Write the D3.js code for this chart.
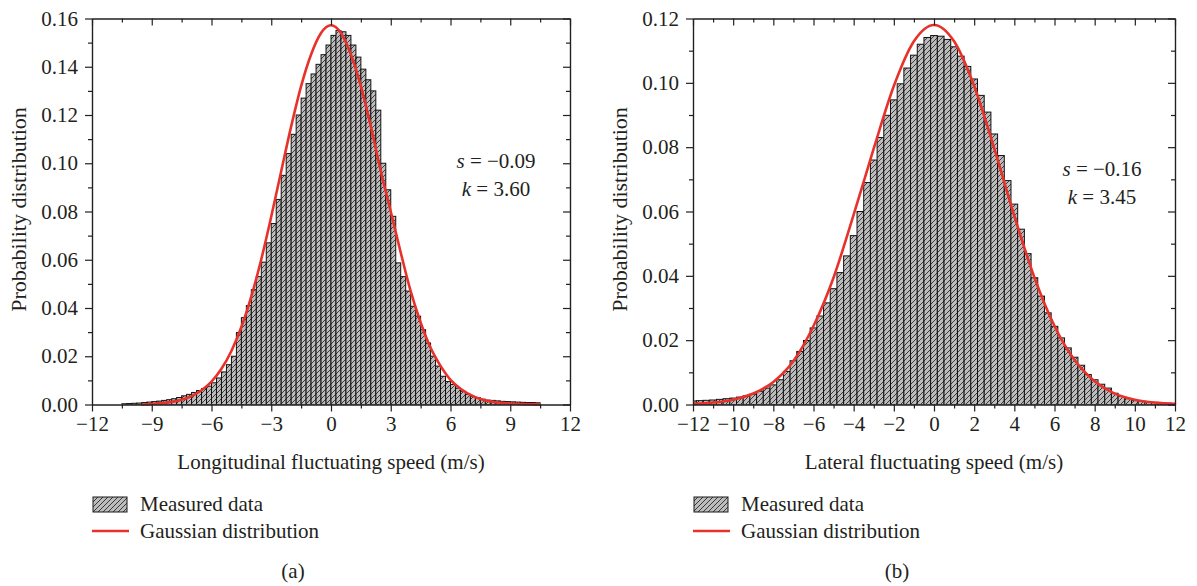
<!DOCTYPE html>
<html>
<head>
<meta charset="utf-8">
<script src="https://cdn.jsdelivr.net/npm/d3@7"></script>
<style>
  body { margin: 0; background: #fff; }
  text { font-family: "Liberation Serif", "Times New Roman", serif; fill: #231f20; }
</style>
</head>
<body>
<svg id="chart" width="1197" height="586"></svg>
<script>
// *********************************************
// DATA
// *********************************************

// (a) longitudinal: bins of 0.25 m/s, first left edge at -10.5
var leftFirstEdge = -10.5, leftBinWidth = 0.25;
var leftHeights = [
  0.0003,0.0004,0.0005,0.0006,0.0008,0.0010,0.0012,0.0014,0.0017,0.0020,0.0024,0.0029,
  0.0036,0.0042,0.0050,0.0058,0.0066,0.0076,0.0090,0.0110,0.0135,0.0165,0.0200,0.0298,
  0.0360,0.0410,0.0476,0.0530,0.0590,0.0670,0.0750,0.0850,0.0950,0.1040,0.1120,0.1200,
  0.1270,0.1330,0.1370,0.1410,0.1450,0.1490,0.1530,0.1550,0.1545,0.1530,0.1490,0.1440,
  0.1390,0.1346,0.1300,0.1220,0.1000,0.0890,0.0780,0.0587,0.0530,0.0470,0.0407,0.0366,
  0.0310,0.0255,0.0200,0.0159,0.0117,0.0095,0.0083,0.0068,0.0055,0.0042,0.0033,0.0028,
  0.0022,0.0018,0.0017,0.0015,0.0013,0.0012,0.0011,0.0010,0.0009,0.0008,0.0008,0.0007
];
var leftCurveX = [-9.5,-9,-8.5,-8,-7.5,-7,-6.5,-6,-5.5,-5,-4.5,-4,-3.5,-3,-2.5,-2,-1.5,-1,-0.5,0,
                  0.5,1,1.5,2,2.5,3,3.5,4,4.5,5,5.5,6,6.5,7,7.5,8,8.5,9,9.5,10,10.5];
var leftCurveY = [0.0000,0.0002,0.0006,0.0011,0.0020,0.0035,0.0059,0.0095,0.0148,0.0222,0.0321,0.0448,
                  0.0602,0.0779,0.0967,0.1153,0.1320,0.1451,0.1540,0.1572,
                  0.1540,0.1451,0.1320,0.1153,0.0967,0.0800,0.0630,0.0470,0.0340,0.0235,0.0160,
                  0.0102,0.0065,0.0040,0.0023,0.0013,0.0007,0.0004,0.0002,0.0001,0.0000];

// (b) lateral: bins of 1/3 m/s centred on multiples of 1/3, from -12 to 12
var rightFirstEdge = -12 - 1/6, rightBinWidth = 1/3;
var rightHeights = [
  0.0011,0.0012,0.0013,0.0014,0.0016,0.0018,0.0020,0.0023,0.0027,0.0032,0.0041,0.0051,
  0.0061,0.0077,0.0103,0.0136,0.0165,0.0199,0.0238,0.0275,0.0316,0.0360,0.0410,0.0462,
  0.0525,0.0600,0.0690,0.0760,0.0830,0.0899,0.0947,0.0997,0.1046,0.1086,0.1120,0.1141,
  0.1147,
  0.1145,0.1135,0.1112,0.1083,0.1051,0.1012,0.0961,0.0909,0.0841,0.0774,0.0696,0.0623,
  0.0545,0.0469,0.0394,0.0337,0.0285,0.0243,0.0207,0.0176,0.0147,0.0122,0.0093,0.0077,
  0.0063,0.0051,0.0035,0.0025,0.0018,0.0012,0.0010,0.0008,0.0006,0.0005,0.0004,0.0003
];
var rightCurveX = [-12,-11,-10,-9,-8,-7,-6,-5,-4,-3,-2,-1,0,1,2,3,4,5,6,7,8,9,10,11,12];
var rightCurveY = [0.0002,0.0006,0.0015,0.0034,0.0070,0.0135,0.0244,0.0395,0.0590,0.0796,0.0990,0.1129,0.1180,
                   0.1129,0.0990,0.0796,0.0586,0.0395,0.0244,0.0138,0.0072,0.0034,0.0015,0.0006,0.0002];

var xTicksLeft = [-12,-9,-6,-3,0,3,6,9,12];
var xTicksRight = [-12,-10,-8,-6,-4,-2,0,2,4,6,8,10,12];
var yTicksLeft = [0,0.02,0.04,0.06,0.08,0.10,0.12,0.14,0.16];
var yTicksRight = [0,0.02,0.04,0.06,0.08,0.10,0.12];

var panelTitles = ["Longitudinal fluctuating speed (m/s)", "Lateral fluctuating speed (m/s)"];
var skewness = ["\u22120.09", "\u22120.16"];
var kurtosis = ["3.60", "3.45"];
var captions = ["(a)", "(b)"];
var legendLabels = ["Measured data", "Gaussian distribution"];

// *********************************************
// SETUP
// *********************************************
var svg = d3.select("#chart");
var red = "#e8312a";

var defs = svg.append("defs");
var pat = defs.append("pattern")
  .attr("id", "hatch")
  .attr("patternUnits", "userSpaceOnUse")
  .attr("width", 5).attr("height", 5);
pat.append("rect").attr("width", 5).attr("height", 5).attr("fill", "#bcbcbc");
pat.append("path")
  .attr("d", "M0,5 L5,0 M-1.25,1.25 L1.25,-1.25 M3.75,6.25 L6.25,3.75")
  .attr("stroke", "#2a2a2a").attr("stroke-width", 0.9);

function drawPanel(p) {
  var x = d3.scaleLinear().domain([-12, 12]).range([p.left, p.right]);
  var y = d3.scaleLinear().domain([0, p.ymax]).range([p.bottom, p.top]);
  var g = svg.append("g");

  defs.append("clipPath").attr("id", "clip" + p.id)
    .append("rect").attr("x", p.left).attr("y", p.top)
    .attr("width", p.right - p.left).attr("height", p.bottom - p.top);

  // histogram bars
  g.append("g").attr("clip-path", "url(#clip" + p.id + ")")
    .selectAll("rect").data(p.heights).enter().append("rect")
      .attr("x", function(d, i) { return x(p.firstEdge + i * p.binWidth); })
      .attr("width", function(d, i) { return x(p.firstEdge + (i + 1) * p.binWidth) - x(p.firstEdge + i * p.binWidth); })
      .attr("y", function(d) { return y(d); })
      .attr("height", function(d) { return y(0) - y(d); })
      .attr("fill", "url(#hatch)")
      .attr("stroke", "#111")
      .attr("stroke-width", 1);

  // gaussian fit
  var line = d3.line()
    .x(function(d, i) { return x(p.curveX[i]); })
    .y(function(d) { return y(d); })
    .curve(d3.curveMonotoneX);
  g.append("path").datum(p.curveY)
    .attr("d", line)
    .attr("fill", "none")
    .attr("stroke", red)
    .attr("stroke-width", 2.6);

  // axes
  var fmtX = d3.format("d");
  var xMinor = [], yMinor = [];
  for (var i = 0; i < p.xTicks.length - 1; i++) xMinor.push((p.xTicks[i] + p.xTicks[i + 1]) / 2);
  for (var j = 0; j < p.yTicks.length - 1; j++) yMinor.push((p.yTicks[j] + p.yTicks[j + 1]) / 2);

  function styleAxis(sel) {
    sel.selectAll("path,line").attr("stroke", "#231f20").attr("stroke-width", 1.2);
    sel.selectAll("text").attr("font-size", "21px").attr("fill", "#231f20")
      .attr("font-family", "Liberation Serif, serif");
  }

  var bx = g.append("g").attr("transform", "translate(0," + p.bottom + ")")
    .call(d3.axisBottom(x).tickValues(p.xTicks).tickFormat(fmtX).tickSize(7).tickSizeOuter(0).tickPadding(5));
  styleAxis(bx);
  var bxm = g.append("g").attr("transform", "translate(0," + p.bottom + ")")
    .call(d3.axisBottom(x).tickValues(xMinor).tickFormat("").tickSize(4).tickSizeOuter(0));
  styleAxis(bxm);

  var tx = g.append("g").attr("transform", "translate(0," + p.top + ")")
    .call(d3.axisBottom(x).tickValues(p.xTicks).tickFormat("").tickSize(7).tickSizeOuter(0));
  styleAxis(tx);
  var txm = g.append("g").attr("transform", "translate(0," + p.top + ")")
    .call(d3.axisBottom(x).tickValues(xMinor).tickFormat("").tickSize(4).tickSizeOuter(0));
  styleAxis(txm);

  var ly = g.append("g").attr("transform", "translate(" + p.left + ",0)")
    .call(d3.axisLeft(y).tickValues(p.yTicks).tickFormat(d3.format(".2f")).tickSize(7).tickSizeOuter(0).tickPadding(7));
  styleAxis(ly);
  var lym = g.append("g").attr("transform", "translate(" + p.left + ",0)")
    .call(d3.axisLeft(y).tickValues(yMinor).tickFormat("").tickSize(4).tickSizeOuter(0));
  styleAxis(lym);

  var ry = g.append("g").attr("transform", "translate(" + p.right + ",0)")
    .call(d3.axisLeft(y).tickValues(p.yTicks).tickFormat("").tickSize(7).tickSizeOuter(0));
  styleAxis(ry);
  var rym = g.append("g").attr("transform", "translate(" + p.right + ",0)")
    .call(d3.axisLeft(y).tickValues(yMinor).tickFormat("").tickSize(4).tickSizeOuter(0));
  styleAxis(rym);

  // titles
  g.append("text")
    .attr("x", (p.left + p.right) / 2).attr("y", 469)
    .attr("text-anchor", "middle").attr("font-size", "21px")
    .text(p.title);
  g.append("text")
    .attr("transform", "translate(" + p.ylabelX + "," + ((p.top + p.bottom) / 2 - 2) + ") rotate(-90)")
    .attr("text-anchor", "middle").attr("font-size", "22px")
    .text("Probability distribution");

  // skewness / kurtosis note
  var s = g.append("text").attr("x", p.noteX).attr("y", p.noteY).attr("font-size", "21px")
    .attr("text-anchor", "middle");
  s.append("tspan").attr("font-style", "italic").text("s");
  s.append("tspan").text(" = " + p.skew);
  var k = g.append("text").attr("x", p.noteX).attr("y", p.noteY + 28).attr("font-size", "21px")
    .attr("text-anchor", "middle");
  k.append("tspan").attr("font-style", "italic").text("k");
  k.append("tspan").text(" = " + p.kurt);

  // legend
  g.append("rect").attr("x", p.left + 1).attr("y", 497).attr("width", 34).attr("height", 15)
    .attr("fill", "url(#hatch)").attr("stroke", "#1a1a1a").attr("stroke-width", 1);
  g.append("text").attr("x", p.left + 48).attr("y", 511).attr("font-size", "21px").text(legendLabels[0]);
  g.append("line").attr("x1", p.left).attr("x2", p.left + 37).attr("y1", 531).attr("y2", 531)
    .attr("stroke", red).attr("stroke-width", 2.6);
  g.append("text").attr("x", p.left + 48).attr("y", 538).attr("font-size", "21px").text(legendLabels[1]);

  // caption
  g.append("text").attr("x", p.captionX).attr("y", 578).attr("text-anchor", "middle")
    .attr("font-size", "21px").text(p.caption);
}

drawPanel({
  id: "a", left: 92, right: 570, top: 18.5, bottom: 404.5, ymax: 0.16,
  heights: leftHeights, firstEdge: leftFirstEdge, binWidth: leftBinWidth,
  curveX: leftCurveX, curveY: leftCurveY,
  xTicks: xTicksLeft, yTicks: yTicksLeft,
  title: panelTitles[0], ylabelX: 26, noteX: 496, noteY: 168,
  skew: skewness[0], kurt: kurtosis[0], caption: captions[0], captionX: 293
});

drawPanel({
  id: "b", left: 693, right: 1175, top: 18.5, bottom: 404.5, ymax: 0.12,
  heights: rightHeights, firstEdge: rightFirstEdge, binWidth: rightBinWidth,
  curveX: rightCurveX, curveY: rightCurveY,
  xTicks: xTicksRight, yTicks: yTicksRight,
  title: panelTitles[1], ylabelX: 627, noteX: 1102, noteY: 176,
  skew: skewness[1], kurt: kurtosis[1], caption: captions[1], captionX: 897
});
</script>
</body>
</html>
